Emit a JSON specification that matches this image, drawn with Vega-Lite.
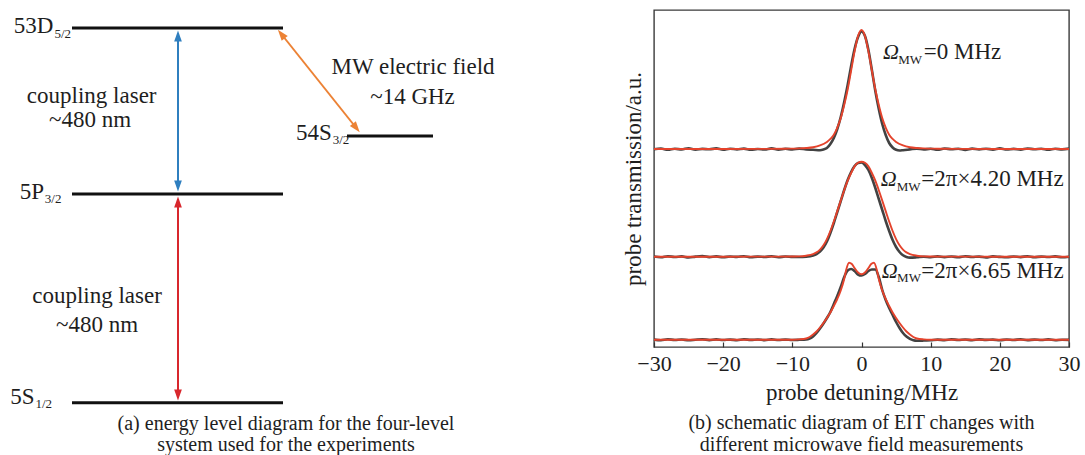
{
  "$schema": "https://vega.github.io/schema/vega-lite/v6.json",
  "padding": {"left": 0, "top": 9, "right": 0, "bottom": 0},
  "background": "white",
  "config": {
    "font": "'Liberation Serif', 'Times New Roman', 'DejaVu Serif', serif",
    "text": {"font": "'Liberation Serif', 'Times New Roman', 'DejaVu Serif', serif"},
    "axis": {"labelFont": "'Liberation Serif', 'Times New Roman', 'DejaVu Serif', serif", "titleFont": "'Liberation Serif', 'Times New Roman', 'DejaVu Serif', serif"},
    "view": {"stroke": null}
  },
  "bounds": "flush",
  "spacing": 114,
  "datasets": {
    "levels": [
      {"level": "53D5/2", "x": 72, "x2": 283, "y": 428},
      {"level": "5P3/2", "x": 72, "x2": 283, "y": 262},
      {"level": "54S3/2", "x": 347, "x2": 433, "y": 320},
      {"level": "5S1/2", "x": 72, "x2": 283, "y": 53.3}
    ],
    "beams": [
      {"beam": "coupling", "x": 178, "y": 420, "x2": 178, "y2": 270},
      {"beam": "probe", "x": 178, "y": 254, "x2": 178, "y2": 61},
      {"beam": "microwave", "x": 281.3, "y": 422, "x2": 356.3, "y2": 328}
    ],
    "heads": [
      {"beam": "coupling", "x": 178, "y": 420, "angle": 0},
      {"beam": "coupling", "x": 178, "y": 270, "angle": 180},
      {"beam": "probe", "x": 178, "y": 254, "angle": 0},
      {"beam": "probe", "x": 178, "y": 61, "angle": 180},
      {"beam": "microwave", "x": 281.3, "y": 422, "angle": 321.5},
      {"beam": "microwave", "x": 356.3, "y": 328, "angle": 141.5}
    ],
    "levelLabels": [
      {"t": "53D", "x": 53.3, "y": 423.3, "part": "main"},
      {"t": "5/2", "x": 54.5, "y": 418.3, "part": "sub"},
      {"t": "5P", "x": 44.1, "y": 257, "part": "main"},
      {"t": "3/2", "x": 44.8, "y": 253, "part": "sub"},
      {"t": "54S", "x": 331.7, "y": 316, "part": "main"},
      {"t": "3/2", "x": 332.7, "y": 312, "part": "sub"},
      {"t": "5S", "x": 34.5, "y": 52.3, "part": "main"},
      {"t": "1/2", "x": 35.5, "y": 48, "part": "sub"}
    ],
    "notes": [
      {"t": "coupling laser", "x": 91.7, "y": 353.3},
      {"t": "~480 nm", "x": 90, "y": 329},
      {"t": "coupling laser", "x": 97, "y": 153.3},
      {"t": "~480 nm", "x": 97, "y": 124},
      {"t": "MW electric field", "x": 413, "y": 382},
      {"t": "~14 GHz", "x": 412.5, "y": 352.3}
    ],
    "captionA": [
      {"t": "(a) energy level diagram for the four-level", "x": 286, "y": 25.7},
      {"t": "system used for the experiments", "x": 286, "y": 5.5}
    ],
    "measured": [
      {"curve": "0 MHz", "det": -30, "trans": 1.978}, {"curve": "0 MHz", "det": -29, "trans": 1.985}, {"curve": "0 MHz", "det": -28, "trans": 1.972}, {"curve": "0 MHz", "det": -27, "trans": 1.982}, {"curve": "0 MHz", "det": -26, "trans": 1.976}, {"curve": "0 MHz", "det": -25, "trans": 1.988}, {"curve": "0 MHz", "det": -24, "trans": 1.974}, {"curve": "0 MHz", "det": -23, "trans": 1.981}, {"curve": "0 MHz", "det": -22, "trans": 1.977}, {"curve": "0 MHz", "det": -21, "trans": 1.986}, {"curve": "0 MHz", "det": -20, "trans": 1.973}, {"curve": "0 MHz", "det": -19, "trans": 1.983}, {"curve": "0 MHz", "det": -18, "trans": 1.976}, {"curve": "0 MHz", "det": -17, "trans": 1.984}, {"curve": "0 MHz", "det": -16, "trans": 1.972}, {"curve": "0 MHz", "det": -15, "trans": 1.98}, {"curve": "0 MHz", "det": -14, "trans": 1.975}, {"curve": "0 MHz", "det": -13, "trans": 1.986}, {"curve": "0 MHz", "det": -12, "trans": 1.974}, {"curve": "0 MHz", "det": -11, "trans": 1.982}, {"curve": "0 MHz", "det": -10, "trans": 1.976}, {"curve": "0 MHz", "det": -9, "trans": 1.984}, {"curve": "0 MHz", "det": -8, "trans": 1.975}, {"curve": "0 MHz", "det": -7, "trans": 1.972}, {"curve": "0 MHz", "det": -6, "trans": 1.968}, {"curve": "0 MHz", "det": -5.5, "trans": 1.975}, {"curve": "0 MHz", "det": -5, "trans": 1.99}, {"curve": "0 MHz", "det": -4.5, "trans": 2.03}, {"curve": "0 MHz", "det": -4, "trans": 2.09}, {"curve": "0 MHz", "det": -3.5, "trans": 2.18}, {"curve": "0 MHz", "det": -3, "trans": 2.30}, {"curve": "0 MHz", "det": -2.5, "trans": 2.45}, {"curve": "0 MHz", "det": -2, "trans": 2.62}, {"curve": "0 MHz", "det": -1.5, "trans": 2.81}, {"curve": "0 MHz", "det": -1, "trans": 2.98}, {"curve": "0 MHz", "det": -0.5, "trans": 3.10}, {"curve": "0 MHz", "det": 0, "trans": 3.155}, {"curve": "0 MHz", "det": 0.5, "trans": 3.11}, {"curve": "0 MHz", "det": 1, "trans": 2.97}, {"curve": "0 MHz", "det": 1.5, "trans": 2.77}, {"curve": "0 MHz", "det": 2, "trans": 2.56}, {"curve": "0 MHz", "det": 2.5, "trans": 2.38}, {"curve": "0 MHz", "det": 3, "trans": 2.23}, {"curve": "0 MHz", "det": 3.5, "trans": 2.12}, {"curve": "0 MHz", "det": 4, "trans": 2.04}, {"curve": "0 MHz", "det": 4.5, "trans": 1.995}, {"curve": "0 MHz", "det": 5, "trans": 1.972}, {"curve": "0 MHz", "det": 5.5, "trans": 1.965}, {"curve": "0 MHz", "det": 6, "trans": 1.968}, {"curve": "0 MHz", "det": 7, "trans": 1.976}, {"curve": "0 MHz", "det": 8, "trans": 1.984}, {"curve": "0 MHz", "det": 9, "trans": 1.975}, {"curve": "0 MHz", "det": 10, "trans": 1.983}, {"curve": "0 MHz", "det": 11, "trans": 1.972}, {"curve": "0 MHz", "det": 12, "trans": 1.985}, {"curve": "0 MHz", "det": 13, "trans": 1.977}, {"curve": "0 MHz", "det": 14, "trans": 1.982}, {"curve": "0 MHz", "det": 15, "trans": 1.971}, {"curve": "0 MHz", "det": 16, "trans": 1.984}, {"curve": "0 MHz", "det": 17, "trans": 1.976}, {"curve": "0 MHz", "det": 18, "trans": 1.983}, {"curve": "0 MHz", "det": 19, "trans": 1.974}, {"curve": "0 MHz", "det": 20, "trans": 1.986}, {"curve": "0 MHz", "det": 21, "trans": 1.975}, {"curve": "0 MHz", "det": 22, "trans": 1.981}, {"curve": "0 MHz", "det": 23, "trans": 1.973}, {"curve": "0 MHz", "det": 24, "trans": 1.985}, {"curve": "0 MHz", "det": 25, "trans": 1.977}, {"curve": "0 MHz", "det": 26, "trans": 1.983}, {"curve": "0 MHz", "det": 27, "trans": 1.972}, {"curve": "0 MHz", "det": 28, "trans": 1.982}, {"curve": "0 MHz", "det": 29, "trans": 1.976}, {"curve": "0 MHz", "det": 30, "trans": 1.984},

      {"curve": "4.20 MHz", "det": -30, "trans": 0.905}, {"curve": "4.20 MHz", "det": -29, "trans": 0.897}, {"curve": "4.20 MHz", "det": -28, "trans": 0.908}, {"curve": "4.20 MHz", "det": -27, "trans": 0.9}, {"curve": "4.20 MHz", "det": -26, "trans": 0.906}, {"curve": "4.20 MHz", "det": -25, "trans": 0.896}, {"curve": "4.20 MHz", "det": -24, "trans": 0.904}, {"curve": "4.20 MHz", "det": -23, "trans": 0.909}, {"curve": "4.20 MHz", "det": -22, "trans": 0.899}, {"curve": "4.20 MHz", "det": -21, "trans": 0.906}, {"curve": "4.20 MHz", "det": -20, "trans": 0.897}, {"curve": "4.20 MHz", "det": -19, "trans": 0.905}, {"curve": "4.20 MHz", "det": -18, "trans": 0.901}, {"curve": "4.20 MHz", "det": -17, "trans": 0.908}, {"curve": "4.20 MHz", "det": -16, "trans": 0.898}, {"curve": "4.20 MHz", "det": -15, "trans": 0.904}, {"curve": "4.20 MHz", "det": -14, "trans": 0.9}, {"curve": "4.20 MHz", "det": -13, "trans": 0.907}, {"curve": "4.20 MHz", "det": -12, "trans": 0.898}, {"curve": "4.20 MHz", "det": -11, "trans": 0.905}, {"curve": "4.20 MHz", "det": -10, "trans": 0.901}, {"curve": "4.20 MHz", "det": -9, "trans": 0.9}, {"curve": "4.20 MHz", "det": -8, "trans": 0.903}, {"curve": "4.20 MHz", "det": -7, "trans": 0.915}, {"curve": "4.20 MHz", "det": -6.5, "trans": 0.93}, {"curve": "4.20 MHz", "det": -6, "trans": 0.955}, {"curve": "4.20 MHz", "det": -5.5, "trans": 0.995}, {"curve": "4.20 MHz", "det": -5, "trans": 1.055}, {"curve": "4.20 MHz", "det": -4.5, "trans": 1.14}, {"curve": "4.20 MHz", "det": -4, "trans": 1.24}, {"curve": "4.20 MHz", "det": -3.5, "trans": 1.35}, {"curve": "4.20 MHz", "det": -3, "trans": 1.46}, {"curve": "4.20 MHz", "det": -2.5, "trans": 1.57}, {"curve": "4.20 MHz", "det": -2, "trans": 1.67}, {"curve": "4.20 MHz", "det": -1.5, "trans": 1.75}, {"curve": "4.20 MHz", "det": -1, "trans": 1.81}, {"curve": "4.20 MHz", "det": -0.5, "trans": 1.84}, {"curve": "4.20 MHz", "det": 0, "trans": 1.845}, {"curve": "4.20 MHz", "det": 0.5, "trans": 1.82}, {"curve": "4.20 MHz", "det": 1, "trans": 1.77}, {"curve": "4.20 MHz", "det": 1.5, "trans": 1.69}, {"curve": "4.20 MHz", "det": 2, "trans": 1.59}, {"curve": "4.20 MHz", "det": 2.5, "trans": 1.48}, {"curve": "4.20 MHz", "det": 3, "trans": 1.37}, {"curve": "4.20 MHz", "det": 3.5, "trans": 1.26}, {"curve": "4.20 MHz", "det": 4, "trans": 1.16}, {"curve": "4.20 MHz", "det": 4.5, "trans": 1.07}, {"curve": "4.20 MHz", "det": 5, "trans": 1.0}, {"curve": "4.20 MHz", "det": 5.5, "trans": 0.95}, {"curve": "4.20 MHz", "det": 6, "trans": 0.917}, {"curve": "4.20 MHz", "det": 6.5, "trans": 0.9}, {"curve": "4.20 MHz", "det": 7, "trans": 0.894}, {"curve": "4.20 MHz", "det": 8, "trans": 0.897}, {"curve": "4.20 MHz", "det": 9, "trans": 0.902}, {"curve": "4.20 MHz", "det": 10, "trans": 0.898}, {"curve": "4.20 MHz", "det": 11, "trans": 0.906}, {"curve": "4.20 MHz", "det": 12, "trans": 0.899}, {"curve": "4.20 MHz", "det": 13, "trans": 0.905}, {"curve": "4.20 MHz", "det": 14, "trans": 0.897}, {"curve": "4.20 MHz", "det": 15, "trans": 0.907}, {"curve": "4.20 MHz", "det": 16, "trans": 0.9}, {"curve": "4.20 MHz", "det": 17, "trans": 0.904}, {"curve": "4.20 MHz", "det": 18, "trans": 0.896}, {"curve": "4.20 MHz", "det": 19, "trans": 0.906}, {"curve": "4.20 MHz", "det": 20, "trans": 0.901}, {"curve": "4.20 MHz", "det": 21, "trans": 0.897}, {"curve": "4.20 MHz", "det": 22, "trans": 0.905}, {"curve": "4.20 MHz", "det": 23, "trans": 0.899}, {"curve": "4.20 MHz", "det": 24, "trans": 0.908}, {"curve": "4.20 MHz", "det": 25, "trans": 0.898}, {"curve": "4.20 MHz", "det": 26, "trans": 0.904}, {"curve": "4.20 MHz", "det": 27, "trans": 0.9}, {"curve": "4.20 MHz", "det": 28, "trans": 0.906}, {"curve": "4.20 MHz", "det": 29, "trans": 0.897}, {"curve": "4.20 MHz", "det": 30, "trans": 0.903},

      {"curve": "6.65 MHz", "det": -30, "trans": 0.074}, {"curve": "6.65 MHz", "det": -29, "trans": 0.068}, {"curve": "6.65 MHz", "det": -28, "trans": 0.077}, {"curve": "6.65 MHz", "det": -27, "trans": 0.07}, {"curve": "6.65 MHz", "det": -26, "trans": 0.075}, {"curve": "6.65 MHz", "det": -25, "trans": 0.067}, {"curve": "6.65 MHz", "det": -24, "trans": 0.073}, {"curve": "6.65 MHz", "det": -23, "trans": 0.078}, {"curve": "6.65 MHz", "det": -22, "trans": 0.069}, {"curve": "6.65 MHz", "det": -21, "trans": 0.076}, {"curve": "6.65 MHz", "det": -20, "trans": 0.07}, {"curve": "6.65 MHz", "det": -19, "trans": 0.074}, {"curve": "6.65 MHz", "det": -18, "trans": 0.068}, {"curve": "6.65 MHz", "det": -17, "trans": 0.077}, {"curve": "6.65 MHz", "det": -16, "trans": 0.071}, {"curve": "6.65 MHz", "det": -15, "trans": 0.075}, {"curve": "6.65 MHz", "det": -14, "trans": 0.069}, {"curve": "6.65 MHz", "det": -13, "trans": 0.076}, {"curve": "6.65 MHz", "det": -12, "trans": 0.07}, {"curve": "6.65 MHz", "det": -11, "trans": 0.074}, {"curve": "6.65 MHz", "det": -10, "trans": 0.07}, {"curve": "6.65 MHz", "det": -9, "trans": 0.072}, {"curve": "6.65 MHz", "det": -8, "trans": 0.075}, {"curve": "6.65 MHz", "det": -7.5, "trans": 0.085}, {"curve": "6.65 MHz", "det": -7, "trans": 0.105}, {"curve": "6.65 MHz", "det": -6.5, "trans": 0.14}, {"curve": "6.65 MHz", "det": -6, "trans": 0.185}, {"curve": "6.65 MHz", "det": -5.5, "trans": 0.235}, {"curve": "6.65 MHz", "det": -5, "trans": 0.29}, {"curve": "6.65 MHz", "det": -4.5, "trans": 0.35}, {"curve": "6.65 MHz", "det": -4, "trans": 0.43}, {"curve": "6.65 MHz", "det": -3.5, "trans": 0.51}, {"curve": "6.65 MHz", "det": -3, "trans": 0.60}, {"curve": "6.65 MHz", "det": -2.5, "trans": 0.70}, {"curve": "6.65 MHz", "det": -2, "trans": 0.765}, {"curve": "6.65 MHz", "det": -1.5, "trans": 0.78}, {"curve": "6.65 MHz", "det": -1, "trans": 0.76}, {"curve": "6.65 MHz", "det": -0.5, "trans": 0.725}, {"curve": "6.65 MHz", "det": 0, "trans": 0.715}, {"curve": "6.65 MHz", "det": 0.5, "trans": 0.73}, {"curve": "6.65 MHz", "det": 1, "trans": 0.76}, {"curve": "6.65 MHz", "det": 1.5, "trans": 0.775}, {"curve": "6.65 MHz", "det": 2, "trans": 0.775}, {"curve": "6.65 MHz", "det": 2.5, "trans": 0.70}, {"curve": "6.65 MHz", "det": 3, "trans": 0.57}, {"curve": "6.65 MHz", "det": 3.5, "trans": 0.47}, {"curve": "6.65 MHz", "det": 4, "trans": 0.39}, {"curve": "6.65 MHz", "det": 4.5, "trans": 0.32}, {"curve": "6.65 MHz", "det": 5, "trans": 0.25}, {"curve": "6.65 MHz", "det": 5.5, "trans": 0.19}, {"curve": "6.65 MHz", "det": 6, "trans": 0.14}, {"curve": "6.65 MHz", "det": 6.5, "trans": 0.105}, {"curve": "6.65 MHz", "det": 7, "trans": 0.082}, {"curve": "6.65 MHz", "det": 7.5, "trans": 0.068}, {"curve": "6.65 MHz", "det": 8, "trans": 0.063}, {"curve": "6.65 MHz", "det": 8.5, "trans": 0.063}, {"curve": "6.65 MHz", "det": 9, "trans": 0.065}, {"curve": "6.65 MHz", "det": 10, "trans": 0.068}, {"curve": "6.65 MHz", "det": 11, "trans": 0.074}, {"curve": "6.65 MHz", "det": 12, "trans": 0.069}, {"curve": "6.65 MHz", "det": 13, "trans": 0.077}, {"curve": "6.65 MHz", "det": 14, "trans": 0.07}, {"curve": "6.65 MHz", "det": 15, "trans": 0.075}, {"curve": "6.65 MHz", "det": 16, "trans": 0.068}, {"curve": "6.65 MHz", "det": 17, "trans": 0.076}, {"curve": "6.65 MHz", "det": 18, "trans": 0.071}, {"curve": "6.65 MHz", "det": 19, "trans": 0.074}, {"curve": "6.65 MHz", "det": 20, "trans": 0.067}, {"curve": "6.65 MHz", "det": 21, "trans": 0.075}, {"curve": "6.65 MHz", "det": 22, "trans": 0.07}, {"curve": "6.65 MHz", "det": 23, "trans": 0.077}, {"curve": "6.65 MHz", "det": 24, "trans": 0.069}, {"curve": "6.65 MHz", "det": 25, "trans": 0.074}, {"curve": "6.65 MHz", "det": 26, "trans": 0.07}, {"curve": "6.65 MHz", "det": 27, "trans": 0.076}, {"curve": "6.65 MHz", "det": 28, "trans": 0.068}, {"curve": "6.65 MHz", "det": 29, "trans": 0.073}, {"curve": "6.65 MHz", "det": 30, "trans": 0.071}
    ],
    "fitted": [
      {"curve": "0 MHz", "det": -30, "trans": 1.98}, {"curve": "0 MHz", "det": -20, "trans": 1.98}, {"curve": "0 MHz", "det": -14, "trans": 1.981}, {"curve": "0 MHz", "det": -11, "trans": 1.983}, {"curve": "0 MHz", "det": -9, "trans": 1.986}, {"curve": "0 MHz", "det": -8, "trans": 1.99}, {"curve": "0 MHz", "det": -7, "trans": 1.998}, {"curve": "0 MHz", "det": -6, "trans": 2.016}, {"curve": "0 MHz", "det": -5, "trans": 2.051}, {"curve": "0 MHz", "det": -4.5, "trans": 2.081}, {"curve": "0 MHz", "det": -4, "trans": 2.123}, {"curve": "0 MHz", "det": -3.5, "trans": 2.194}, {"curve": "0 MHz", "det": -3, "trans": 2.289}, {"curve": "0 MHz", "det": -2.5, "trans": 2.42}, {"curve": "0 MHz", "det": -2, "trans": 2.575}, {"curve": "0 MHz", "det": -1.5, "trans": 2.765}, {"curve": "0 MHz", "det": -1, "trans": 2.956}, {"curve": "0 MHz", "det": -0.5, "trans": 3.11}, {"curve": "0 MHz", "det": 0, "trans": 3.17}, {"curve": "0 MHz", "det": 0.5, "trans": 3.11}, {"curve": "0 MHz", "det": 1, "trans": 2.956}, {"curve": "0 MHz", "det": 1.5, "trans": 2.765}, {"curve": "0 MHz", "det": 2, "trans": 2.575}, {"curve": "0 MHz", "det": 2.5, "trans": 2.42}, {"curve": "0 MHz", "det": 3, "trans": 2.289}, {"curve": "0 MHz", "det": 3.5, "trans": 2.194}, {"curve": "0 MHz", "det": 4, "trans": 2.123}, {"curve": "0 MHz", "det": 4.5, "trans": 2.081}, {"curve": "0 MHz", "det": 5, "trans": 2.051}, {"curve": "0 MHz", "det": 6, "trans": 2.016}, {"curve": "0 MHz", "det": 7, "trans": 1.998}, {"curve": "0 MHz", "det": 8, "trans": 1.99}, {"curve": "0 MHz", "det": 9, "trans": 1.986}, {"curve": "0 MHz", "det": 11, "trans": 1.983}, {"curve": "0 MHz", "det": 14, "trans": 1.981}, {"curve": "0 MHz", "det": 20, "trans": 1.98}, {"curve": "0 MHz", "det": 30, "trans": 1.98},

      {"curve": "4.20 MHz", "det": -30, "trans": 0.903}, {"curve": "4.20 MHz", "det": -20, "trans": 0.903}, {"curve": "4.20 MHz", "det": -12, "trans": 0.904}, {"curve": "4.20 MHz", "det": -10, "trans": 0.905}, {"curve": "4.20 MHz", "det": -9, "trans": 0.906}, {"curve": "4.20 MHz", "det": -8, "trans": 0.913}, {"curve": "4.20 MHz", "det": -7, "trans": 0.929}, {"curve": "4.20 MHz", "det": -6.5, "trans": 0.946}, {"curve": "4.20 MHz", "det": -6, "trans": 0.974}, {"curve": "4.20 MHz", "det": -5.5, "trans": 1.017}, {"curve": "4.20 MHz", "det": -5, "trans": 1.079}, {"curve": "4.20 MHz", "det": -4.5, "trans": 1.16}, {"curve": "4.20 MHz", "det": -4, "trans": 1.255}, {"curve": "4.20 MHz", "det": -3.5, "trans": 1.359}, {"curve": "4.20 MHz", "det": -3, "trans": 1.464}, {"curve": "4.20 MHz", "det": -2.5, "trans": 1.568}, {"curve": "4.20 MHz", "det": -2, "trans": 1.663}, {"curve": "4.20 MHz", "det": -1.5, "trans": 1.74}, {"curve": "4.20 MHz", "det": -1, "trans": 1.806}, {"curve": "4.20 MHz", "det": -0.5, "trans": 1.842}, {"curve": "4.20 MHz", "det": 0, "trans": 1.853}, {"curve": "4.20 MHz", "det": 0.5, "trans": 1.842}, {"curve": "4.20 MHz", "det": 1, "trans": 1.806}, {"curve": "4.20 MHz", "det": 1.5, "trans": 1.74}, {"curve": "4.20 MHz", "det": 2, "trans": 1.663}, {"curve": "4.20 MHz", "det": 2.5, "trans": 1.568}, {"curve": "4.20 MHz", "det": 3, "trans": 1.464}, {"curve": "4.20 MHz", "det": 3.5, "trans": 1.359}, {"curve": "4.20 MHz", "det": 4, "trans": 1.255}, {"curve": "4.20 MHz", "det": 4.5, "trans": 1.16}, {"curve": "4.20 MHz", "det": 5, "trans": 1.079}, {"curve": "4.20 MHz", "det": 5.5, "trans": 1.017}, {"curve": "4.20 MHz", "det": 6, "trans": 0.974}, {"curve": "4.20 MHz", "det": 6.5, "trans": 0.946}, {"curve": "4.20 MHz", "det": 7, "trans": 0.929}, {"curve": "4.20 MHz", "det": 8, "trans": 0.913}, {"curve": "4.20 MHz", "det": 9, "trans": 0.906}, {"curve": "4.20 MHz", "det": 10, "trans": 0.905}, {"curve": "4.20 MHz", "det": 12, "trans": 0.904}, {"curve": "4.20 MHz", "det": 20, "trans": 0.903}, {"curve": "4.20 MHz", "det": 30, "trans": 0.903},

      {"curve": "6.65 MHz", "det": -30, "trans": 0.072}, {"curve": "6.65 MHz", "det": -20, "trans": 0.072}, {"curve": "6.65 MHz", "det": -12, "trans": 0.072}, {"curve": "6.65 MHz", "det": -10, "trans": 0.073}, {"curve": "6.65 MHz", "det": -9, "trans": 0.076}, {"curve": "6.65 MHz", "det": -8, "trans": 0.085}, {"curve": "6.65 MHz", "det": -7.5, "trans": 0.10}, {"curve": "6.65 MHz", "det": -7, "trans": 0.125}, {"curve": "6.65 MHz", "det": -6.5, "trans": 0.155}, {"curve": "6.65 MHz", "det": -6, "trans": 0.195}, {"curve": "6.65 MHz", "det": -5.5, "trans": 0.24}, {"curve": "6.65 MHz", "det": -5, "trans": 0.29}, {"curve": "6.65 MHz", "det": -4.5, "trans": 0.345}, {"curve": "6.65 MHz", "det": -4, "trans": 0.41}, {"curve": "6.65 MHz", "det": -3.5, "trans": 0.48}, {"curve": "6.65 MHz", "det": -3, "trans": 0.565}, {"curve": "6.65 MHz", "det": -2.5, "trans": 0.68}, {"curve": "6.65 MHz", "det": -2.2, "trans": 0.775}, {"curve": "6.65 MHz", "det": -1.8, "trans": 0.843}, {"curve": "6.65 MHz", "det": -1.4, "trans": 0.83}, {"curve": "6.65 MHz", "det": -1, "trans": 0.79}, {"curve": "6.65 MHz", "det": -0.5, "trans": 0.745}, {"curve": "6.65 MHz", "det": 0, "trans": 0.727}, {"curve": "6.65 MHz", "det": 0.5, "trans": 0.745}, {"curve": "6.65 MHz", "det": 1, "trans": 0.79}, {"curve": "6.65 MHz", "det": 1.4, "trans": 0.83}, {"curve": "6.65 MHz", "det": 1.8, "trans": 0.843}, {"curve": "6.65 MHz", "det": 2.2, "trans": 0.775}, {"curve": "6.65 MHz", "det": 2.5, "trans": 0.68}, {"curve": "6.65 MHz", "det": 3, "trans": 0.565}, {"curve": "6.65 MHz", "det": 3.5, "trans": 0.48}, {"curve": "6.65 MHz", "det": 4, "trans": 0.41}, {"curve": "6.65 MHz", "det": 4.5, "trans": 0.345}, {"curve": "6.65 MHz", "det": 5, "trans": 0.29}, {"curve": "6.65 MHz", "det": 5.5, "trans": 0.24}, {"curve": "6.65 MHz", "det": 6, "trans": 0.195}, {"curve": "6.65 MHz", "det": 6.5, "trans": 0.155}, {"curve": "6.65 MHz", "det": 7, "trans": 0.125}, {"curve": "6.65 MHz", "det": 7.5, "trans": 0.10}, {"curve": "6.65 MHz", "det": 8, "trans": 0.085}, {"curve": "6.65 MHz", "det": 9, "trans": 0.076}, {"curve": "6.65 MHz", "det": 10, "trans": 0.073}, {"curve": "6.65 MHz", "det": 12, "trans": 0.072}, {"curve": "6.65 MHz", "det": 20, "trans": 0.072}, {"curve": "6.65 MHz", "det": 30, "trans": 0.072}
    ],
    "omega": [
      {"det": 3.11, "trans": 2.877, "t": "Ω", "part": "symbol"},
      {"det": 5.31, "trans": 2.827, "t": "MW", "part": "sub"},
      {"det": 9.0, "trans": 2.877, "t": "=0 MHz", "part": "value"},
      {"det": 2.78, "trans": 1.61, "t": "Ω", "part": "symbol"},
      {"det": 5.1, "trans": 1.56, "t": "MW", "part": "sub"},
      {"det": 8.65, "trans": 1.61, "t": "=2π×4.20 MHz", "part": "value"},
      {"det": 2.92, "trans": 0.693, "t": "Ω", "part": "symbol"},
      {"det": 5.15, "trans": 0.65, "t": "MW", "part": "sub"},
      {"det": 8.65, "trans": 0.693, "t": "=2π×6.65 MHz", "part": "value"}
    ],
    "captionB": [
      {"det": 0, "trans": -0.823, "t": "(b) schematic diagram of EIT changes with"},
      {"det": 0, "trans": -1.038, "t": "different microwave field measurements"}
    ]
  },
  "hconcat": [
    {
      "width": 540,
      "height": 446,
      "view": {"stroke": null},
      "encoding": {
        "x": {"field": "x", "type": "quantitative", "scale": {"domain": [0, 540], "nice": false, "zero": false}, "axis": null},
        "y": {"field": "y", "type": "quantitative", "scale": {"domain": [0, 446], "nice": false, "zero": false}, "axis": null}
      },
      "layer": [
        {
          "data": {"name": "levels"},
          "mark": {"type": "rule", "color": "#111111", "strokeWidth": 3},
          "encoding": {"x2": {"field": "x2"}}
        },
        {
          "data": {"name": "beams"},
          "mark": {"type": "rule", "strokeWidth": 2},
          "encoding": {
            "x2": {"field": "x2"},
            "y2": {"field": "y2"},
            "color": {"field": "beam", "type": "nominal", "scale": {"domain": ["coupling", "probe", "microwave"], "range": ["#2f7fbf", "#d8272d", "#ec8235"]}, "legend": null}
          }
        },
        {
          "data": {"name": "heads"},
          "mark": {"type": "point", "shape": "M0,-1L0.7,1L-0.7,1Z", "filled": true, "size": 121, "opacity": 1, "strokeWidth": 0},
          "encoding": {
            "angle": {"field": "angle", "type": "quantitative", "scale": null},
            "color": {"field": "beam", "type": "nominal", "scale": {"domain": ["coupling", "probe", "microwave"], "range": ["#2f7fbf", "#d8272d", "#ec8235"]}, "legend": null}
          }
        },
        {
          "data": {"name": "levelLabels"},
          "transform": [{"filter": "datum.part === 'main'"}],
          "mark": {"type": "text", "align": "right", "baseline": "alphabetic", "fontSize": 23, "color": "#1e1e1e"},
          "encoding": {"text": {"field": "t"}}
        },
        {
          "data": {"name": "levelLabels"},
          "transform": [{"filter": "datum.part === 'sub'"}],
          "mark": {"type": "text", "align": "left", "baseline": "alphabetic", "fontSize": 13, "color": "#1e1e1e"},
          "encoding": {"text": {"field": "t"}}
        },
        {
          "data": {"name": "notes"},
          "mark": {"type": "text", "align": "center", "baseline": "alphabetic", "fontSize": 23, "color": "#1e1e1e"},
          "encoding": {"text": {"field": "t"}}
        },
        {
          "data": {"name": "captionA"},
          "mark": {"type": "text", "align": "center", "baseline": "alphabetic", "fontSize": 20, "color": "#1e1e1e"},
          "encoding": {"text": {"field": "t"}}
        }
      ]
    },
    {
      "width": 415,
      "height": 337,
      "view": {"stroke": "#3a3a3a", "strokeWidth": 1.4},
      "encoding": {
        "x": {
          "field": "det", "type": "quantitative",
          "scale": {"domain": [-30, 30], "nice": false, "zero": false},
          "axis": {
            "title": "probe detuning/MHz", "values": [-30, -20, -10, 0, 10, 20, 30],
            "domain": false, "grid": false, "tickSize": -5, "tickColor": "#333333", "tickWidth": 1.2,
            "labelPadding": 11.7, "labelFontSize": 22, "labelColor": "#1e1e1e", "labelFlush": false, "labelOverlap": false,
            "titleFontSize": 23, "titleFontWeight": "normal", "titleColor": "#1e1e1e", "titleBaseline": "alphabetic", "titleY": 52.3
          }
        },
        "y": {
          "field": "trans", "type": "quantitative",
          "scale": {"domain": [0, 3.37], "nice": false, "zero": false},
          "axis": {
            "title": "probe transmission/a.u.", "labels": false, "ticks": false, "domain": false, "grid": false,
            "titleFontSize": 23, "titleFontWeight": "normal", "titleColor": "#1e1e1e", "titlePadding": 9
          }
        }
      },
      "layer": [
        {
          "data": {"name": "measured"},
          "mark": {"type": "line", "color": "#2e2e2e", "strokeWidth": 2.6, "strokeOpacity": 0.9, "interpolate": "monotone"},
          "encoding": {"detail": {"field": "curve"}}
        },
        {
          "data": {"name": "fitted"},
          "mark": {"type": "line", "color": "#e4432c", "strokeWidth": 1.9, "interpolate": "monotone"},
          "encoding": {"detail": {"field": "curve"}}
        },
        {
          "data": {"name": "omega"},
          "transform": [{"filter": "datum.part === 'symbol'"}],
          "mark": {"type": "text", "align": "left", "baseline": "alphabetic", "fontSize": 22, "fontStyle": "italic", "color": "#1e1e1e"},
          "encoding": {"text": {"field": "t"}}
        },
        {
          "data": {"name": "omega"},
          "transform": [{"filter": "datum.part === 'sub'"}],
          "mark": {"type": "text", "align": "left", "baseline": "alphabetic", "fontSize": 13, "color": "#1e1e1e"},
          "encoding": {"text": {"field": "t"}}
        },
        {
          "data": {"name": "omega"},
          "transform": [{"filter": "datum.part === 'value'"}],
          "mark": {"type": "text", "align": "left", "baseline": "alphabetic", "fontSize": 23, "color": "#1e1e1e"},
          "encoding": {"text": {"field": "t"}}
        },
        {
          "data": {"name": "captionB"},
          "mark": {"type": "text", "align": "center", "baseline": "alphabetic", "fontSize": 20, "color": "#1e1e1e"},
          "encoding": {"text": {"field": "t"}}
        }
      ]
    }
  ]
}
